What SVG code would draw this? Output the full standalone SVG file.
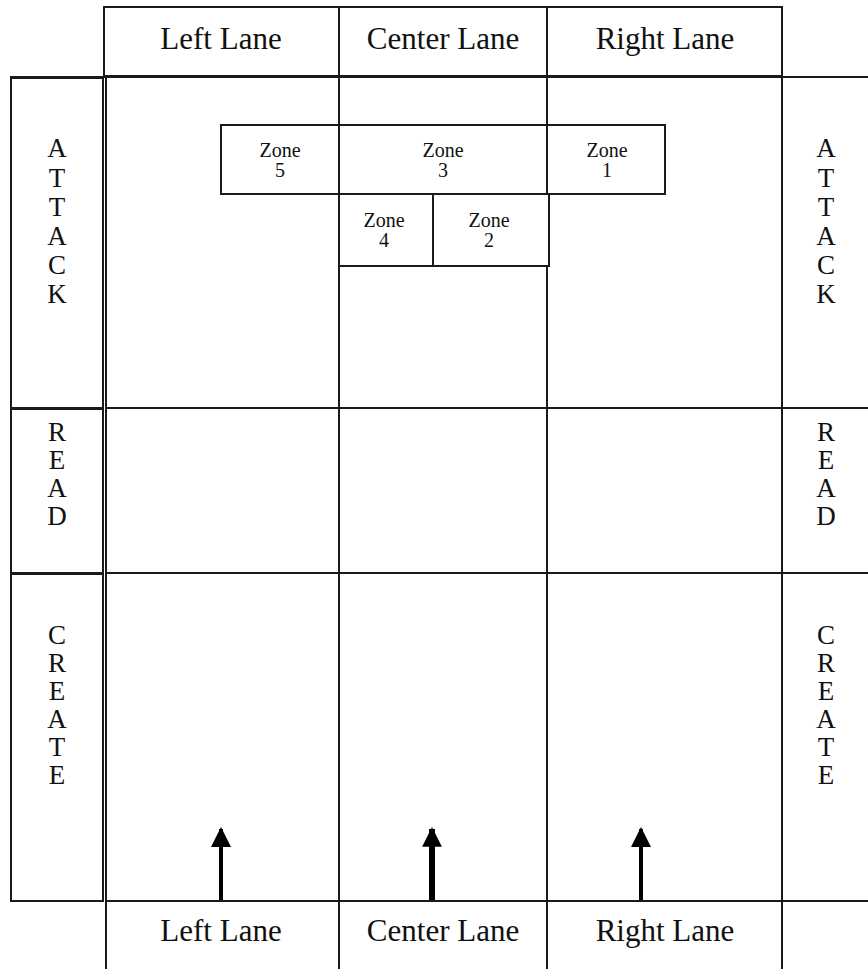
<svg xmlns="http://www.w3.org/2000/svg" width="868" height="969" viewBox="0 0 868 969">
<style>
.ln{stroke:#1a1a1a;stroke-width:2;fill:none}
.t{font-family:"Liberation Serif","Times New Roman",serif;fill:#111}
.hd{font-size:31px;text-anchor:middle}
.side{font-size:27px;text-anchor:middle}
.zn{font-size:20px;text-anchor:middle}
.arr{stroke:#000;fill:none}
</style>
<defs>
<marker id="ah" viewBox="0 0 10 10" refX="9" refY="5" markerWidth="5" markerHeight="5" markerUnits="strokeWidth" orient="auto">
<path d="M0,0 L10,5 L0,10 z" fill="#000"/>
</marker>
<marker id="ahc" viewBox="0 0 10 10" refX="9" refY="5" markerWidth="3.3" markerHeight="3.3" markerUnits="strokeWidth" orient="auto">
<path d="M0,0 L10,5 L0,10 z" fill="#000"/>
</marker>
</defs>
<rect width="868" height="969" fill="#fff"/>
<g id="grid">
<rect class="ln" x="104" y="7" width="678" height="69"/>
<line class="ln" x1="339" y1="7" x2="339" y2="76"/>
<line class="ln" x1="547" y1="7" x2="547" y2="76"/>
<line class="ln" x1="10" y1="77" x2="868" y2="77"/>
<line class="ln" x1="106" y1="77" x2="106" y2="969"/>
<line class="ln" x1="339" y1="77" x2="339" y2="969"/>
<line class="ln" x1="547" y1="77" x2="547" y2="125"/>
<line class="ln" x1="547" y1="266" x2="547" y2="969"/>
<line class="ln" x1="782" y1="77" x2="782" y2="969"/>
<line class="ln" x1="106" y1="408" x2="868" y2="408"/>
<line class="ln" x1="106" y1="573" x2="868" y2="573"/>
<line class="ln" x1="106" y1="901" x2="868" y2="901"/>
</g>
<g id="side-left">
<rect class="ln" x="11" y="78" width="92" height="330"/>
<rect class="ln" x="11" y="409" width="92" height="164"/>
<rect class="ln" x="11" y="574" width="92" height="327"/>
</g>
<g id="header-left"><text class="t hd" x="221" y="49">Left Lane</text></g>
<g id="header-center"><text class="t hd" x="443" y="49">Center Lane</text></g>
<g id="header-right"><text class="t hd" x="665" y="49">Right Lane</text></g>
<g id="attack-left"><text class="t side"><tspan x="57" y="157">A</tspan><tspan x="57" y="187">T</tspan><tspan x="57" y="216">T</tspan><tspan x="57" y="245">A</tspan><tspan x="57" y="274">C</tspan><tspan x="57" y="303">K</tspan></text></g>
<g id="attack-right"><text class="t side"><tspan x="826" y="157">A</tspan><tspan x="826" y="187">T</tspan><tspan x="826" y="216">T</tspan><tspan x="826" y="245">A</tspan><tspan x="826" y="274">C</tspan><tspan x="826" y="303">K</tspan></text></g>
<g id="read-left"><text class="t side"><tspan x="57" y="441">R</tspan><tspan x="57" y="469">E</tspan><tspan x="57" y="497">A</tspan><tspan x="57" y="525">D</tspan></text></g>
<g id="read-right"><text class="t side"><tspan x="826" y="441">R</tspan><tspan x="826" y="469">E</tspan><tspan x="826" y="497">A</tspan><tspan x="826" y="525">D</tspan></text></g>
<g id="create-left"><text class="t side"><tspan x="57" y="644">C</tspan><tspan x="57" y="672">R</tspan><tspan x="57" y="700">E</tspan><tspan x="57" y="728">A</tspan><tspan x="57" y="756">T</tspan><tspan x="57" y="784">E</tspan></text></g>
<g id="create-right"><text class="t side"><tspan x="826" y="644">C</tspan><tspan x="826" y="672">R</tspan><tspan x="826" y="700">E</tspan><tspan x="826" y="728">A</tspan><tspan x="826" y="756">T</tspan><tspan x="826" y="784">E</tspan></text></g>
<g id="zones">
<rect class="ln" x="221" y="125" width="444" height="69"/>
<line class="ln" x1="339" y1="125" x2="339" y2="194"/>
<line class="ln" x1="547" y1="125" x2="547" y2="194"/>
<rect class="ln" x="339" y="194" width="210" height="72"/>
<line class="ln" x1="433" y1="194" x2="433" y2="266"/>
</g>
<g id="zone5"><text class="t zn" x="280" y="157">Zone</text><text class="t zn" x="280" y="177">5</text></g>
<g id="zone3"><text class="t zn" x="443" y="157">Zone</text><text class="t zn" x="443" y="177">3</text></g>
<g id="zone1"><text class="t zn" x="607" y="157">Zone</text><text class="t zn" x="607" y="177">1</text></g>
<g id="zone4"><text class="t zn" x="384" y="227">Zone</text><text class="t zn" x="384" y="247">4</text></g>
<g id="zone2"><text class="t zn" x="489" y="227">Zone</text><text class="t zn" x="489" y="247">2</text></g>
<g id="footer-left"><text class="t hd" x="221" y="941">Left Lane</text></g>
<g id="footer-center"><text class="t hd" x="443" y="941">Center Lane</text></g>
<g id="footer-right"><text class="t hd" x="665" y="941">Right Lane</text></g>
<g id="connectors">
<line class="arr" stroke-width="4" x1="221" y1="900" x2="221" y2="829" marker-end="url(#ah)"/>
<line class="arr" stroke-width="6" x1="432" y1="900" x2="432" y2="829" marker-end="url(#ahc)"/>
<line class="arr" stroke-width="4" x1="641" y1="900" x2="641" y2="829" marker-end="url(#ah)"/>
</g>
</svg>
